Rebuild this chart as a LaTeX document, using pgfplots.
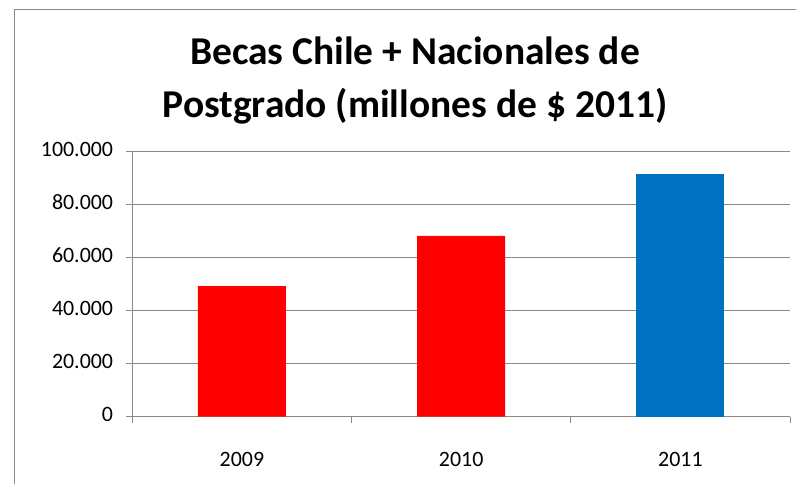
\documentclass[border=0pt]{standalone}
\usepackage{fontspec}
\setmainfont{Carlito}
\usepackage{pgfplots}
\pgfplotsset{compat=1.18}

\definecolor{xlred}{HTML}{FF0000}
\definecolor{xlblue}{HTML}{0070C0}
\definecolor{xlgrid}{HTML}{898989}

\begin{document}
\begin{tikzpicture}
% page = 796 x 484 bp, axis box bottom-left sits at pixel (132.3, 416.7)
\path[use as bounding box] (-132.3bp,-67.3bp) rectangle (663.7bp,416.7bp);
\draw[xlgrid, line width=1bp] (-117.3bp,-67.3bp) -- (-117.3bp,406.7bp) -- (663.7bp,406.7bp);

\node[anchor=base, font=\fontsize{39.6}{47}\selectfont\bfseries] at (282.7bp,351.7bp) {Becas Chile + Nacionales de};
\node[anchor=base, font=\fontsize{39.6}{47}\selectfont\bfseries] at (282.7bp,298.7bp) {Postgrado (millones de \$ 2011)};

\begin{axis}[
    at={(0,0)}, anchor=south west,
    scale only axis,
    width=657.7bp, height=265bp,
    xmin=-0.5, xmax=2.5,
    ymin=0, ymax=100000,
    bar shift=0pt, bar width=88bp,
    axis x line*=bottom, axis y line*=left,
    axis line style={xlgrid, line width=1bp},
    ymajorgrids,
    grid style={xlgrid, line width=1bp},
    ytick={0,20000,40000,60000,80000,100000},
    xtick={0,1,2},
    xticklabels={2009,2010,2011},
    extra x ticks={-0.5,0.5,1.5,2.5},
    extra x tick labels={},
    extra x tick style={xtick style={draw=xlgrid, line width=1bp}},
    tick align=outside,
    major tick length=6bp,
    ytick style={draw=xlgrid, line width=1bp},
    xtick style={draw=none},
    scaled y ticks=false,
    /pgf/number format/.cd, fixed, 1000 sep={.}, assume math mode=true,
    /pgfplots/.cd,
    tick label style={font=\fontsize{22}{26}\selectfont, text=black},
    yticklabel style={anchor=east, inner sep=0pt, xshift=-13bp},
    xticklabel style={anchor=base, inner sep=0pt, yshift=-43.3bp},
    typeset ticklabels with strut=false,
]
\addplot[ybar, fill=xlred, draw=none] coordinates {(0,49300) (1,68200)};
\addplot[ybar, fill=xlblue, draw=none] coordinates {(2,91600)};
\end{axis}
\end{tikzpicture}
\end{document}
